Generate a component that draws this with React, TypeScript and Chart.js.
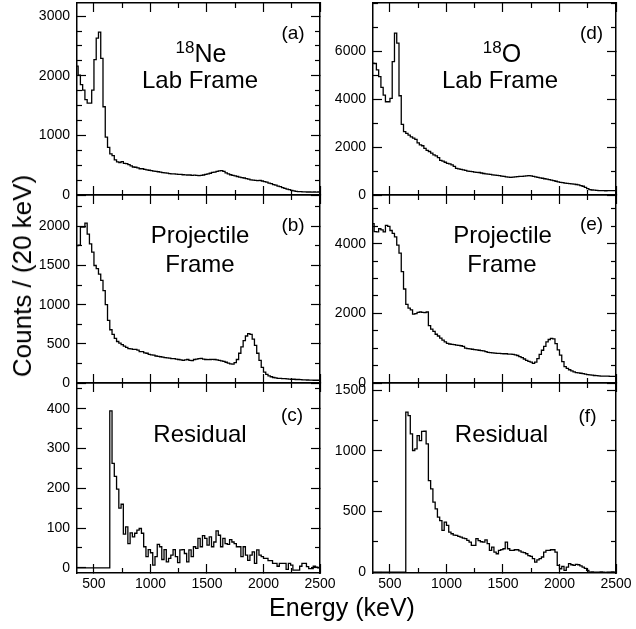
import React, { useEffect, useRef } from "react";
import { Chart, registerables } from "chart.js";

Chart.register(...registerables);

// ---------------- data ----------------
const BIN_START_KEV = 340;
const BIN_WIDTH_KEV = 20;
const X_MIN_KEV = 350;
const X_MAX_KEV = 2500;
const X_MAJOR_TICKS = [500, 1000, 1500, 2000, 2500];
const X_MINOR_TICKS = [750, 1250, 1750, 2250];

// counts per 20 keV bin, bins start at 340 keV
const NE_LAB = [
  2160, 2010, 1850, 1760, 1600, 1540, 1540, 1760, 2270, 2630,
  2730, 2290, 1480, 970, 800, 690, 660, 590, 555, 545,
  560, 530, 525, 510, 490, 470, 465, 455, 440, 440,
  430, 420, 415, 410, 400, 395, 390, 385, 375, 370,
  368, 360, 355, 355, 350, 345, 345, 340, 338, 335,
  335, 330, 332, 328, 325, 330, 335, 345, 355, 365,
  378, 385, 395, 405, 410, 395, 370, 355, 340, 330,
  320, 310, 300, 290, 285, 275, 265, 255, 250, 245,
  240, 245, 235, 225, 215, 200, 190, 175, 165, 150,
  140, 125, 110, 100, 90, 78, 70, 62, 58, 55,
  54, 52, 50, 50, 49, 50, 48, 50,
];
const NE_PROJ = [
  1755, 1760, 1990, 1990, 2040, 1900, 1775, 1670, 1500, 1460,
  1390, 1310, 1180, 1000, 800, 680, 620, 570, 530, 510,
  490, 470, 455, 440, 435, 430, 430, 420, 400, 400,
  385, 380, 365, 360, 355, 345, 340, 335, 330, 325,
  320, 318, 312, 310, 305, 300, 295, 290, 295, 300,
  290, 285, 300, 305, 310, 315, 305, 300, 298, 300,
  302, 300, 295, 290, 282, 275, 265, 255, 245, 240,
  260, 300, 380, 460, 540, 600, 630, 620, 560, 480,
  380, 290, 200, 140, 110, 90, 80, 70, 65, 60,
  58, 55, 55, 52, 50, 48, 48, 45, 45, 42,
  40, 40, 38, 36, 36, 35, 35, 35,
];
const NE_RESID = [
  0, 0, 0, 0, 0, 0, 0, 0, 0, 0,
  0, 0, 0, 0, 0, 395, 263, 230, 198, 150,
  160, 85, 103, 61, 88, 78, 87, 95, 99, 87,
  53, 28, 46, 38, 7, 28, 59, 53, 21, 46,
  15, 24, 32, 46, 28, 13, 45, 46, 36, 15,
  45, 28, 53, 49, 74, 53, 81, 74, 57, 78,
  53, 65, 93, 82, 53, 74, 61, 59, 71, 65,
  61, 53, 53, 28, 53, 32, 19, 32, 40, 11,
  45, 32, 28, 24, 24, 18, 18, 11, 11, 4,
  11, 11, 11, -4, 11, 7, -6, -6, -6, 4,
  11, 11, 3, -2, -2, 4, 2, 0,
];
const O_LAB = [
  5510, 5500, 5230, 4950, 4500, 4180, 3900, 3900, 4040, 5580,
  6770, 6350, 4150, 2950, 2650, 2580, 2500, 2430, 2380, 2330,
  2180, 2100, 2060, 1950, 1870, 1820, 1750, 1680, 1640, 1560,
  1450, 1420, 1370, 1320, 1300, 1260, 1200, 1110, 1090, 1070,
  1050, 1030, 1000, 990, 980, 960, 950, 940, 920, 900,
  880, 870, 860, 840, 830, 820, 810, 790, 780, 760,
  745, 740, 750, 760, 770, 775, 780, 790, 800, 810,
  800, 780, 760, 740, 720, 700, 680, 660, 645, 620,
  600, 575, 545, 530, 515, 500, 490, 475, 465, 455,
  440, 420, 390, 365, 320, 270, 225, 210, 200, 190,
  185, 180, 180, 178, 180, 182, 180, 180,
];
const O_PROJ = [
  4580, 4350, 4340, 4430, 4400, 4340, 4530, 4500, 4380, 4300,
  4200, 3960, 3730, 3200, 2700, 2260, 2150, 2100, 1980, 1990,
  2030, 2040, 2030, 2020, 2040, 1650, 1550, 1480, 1400, 1350,
  1290, 1230, 1180, 1140, 1120, 1110, 1100, 1090, 1080, 1070,
  1050, 1000, 990, 980, 970, 960, 950, 940, 930, 920,
  900, 880, 870, 865, 860, 850, 850, 845, 840, 840,
  830, 830, 820, 810, 790, 760, 730, 690, 650, 620,
  600, 565, 600, 700, 820, 940, 1050, 1180, 1250, 1280,
  1270, 1130, 950, 800, 615, 470, 420, 380, 350, 320,
  300, 290, 280, 270, 255, 240, 235, 225, 215, 210,
  205, 200, 200, 198, 195, 192, 190, 190,
];
const O_RESID = [
  0, 0, 0, 0, 0, 0, 0, 0, 0, 0,
  0, 0, 0, 0, 0, 1320, 1290, 1140, 1003, 1016,
  1126, 1085, 1160, 1162, 1058, 755, 687, 577, 522, 453,
  425, 343, 412, 385, 330, 316, 305, 302, 295, 288,
  280, 275, 262, 247, 220, 220, 275, 260, 250, 247,
  266, 234, 179, 206, 165, 151, 179, 185, 192, 247,
  192, 179, 179, 184, 184, 175, 165, 160, 151, 135,
  129, 110, 82, 100, 110, 124, 165, 179, 179, 184,
  184, 165, 55, 27, 47, 14, 40, 69, 60, 55,
  63, 60, 50, 41, 30, 14, 0, 2, 0, 0,
  0, 2, 0, -3, 0, 0, 2, 0,
];

const A_Y_LABELS = [0, 1000, 2000, 3000];
const B_Y_LABELS = [0, 500, 1000, 1500, 2000];
const C_Y_LABELS = [0, 100, 200, 300, 400];
const D_Y_LABELS = [0, 2000, 4000, 6000];
const E_Y_LABELS = [0, 2000, 4000];
const F_Y_LABELS = [0, 500, 1000, 1500];

// ---------------- layout / style ----------------
const FONT = '"Liberation Sans", Arial, Helvetica, sans-serif';
const COL_LEFT = [77, 373];
const COL_RIGHT = [320, 616];
const ROW_TOP = [3, 195, 383];
const ROW_BOTTOM = [195, 383, 573];
const ML = 70; // canvas room left of the frame (y labels)
const MR = 22;
const MT = 10;
const X_LABEL_H = 24;
const MAJOR_LEN = 9;
const MINOR_LEN = 5;
const FRAME_W = 1.5;
const TICK_W = 1.2;

type PanelSpec = {
  key: string;
  counts: number[];
  yMin: number;
  yMax: number;
  yLabels: number[];
  yMinorStep: number;
  col: number;
  row: number;
};

const PANELS: PanelSpec[] = [
  { key: "a", counts: NE_LAB, yMin: 0, yMax: 3220, yLabels: A_Y_LABELS, yMinorStep: 250, col: 0, row: 0 },
  { key: "b", counts: NE_PROJ, yMin: 0, yMax: 2400, yLabels: B_Y_LABELS, yMinorStep: 250, col: 0, row: 1 },
  { key: "c", counts: NE_RESID, yMin: -13, yMax: 465, yLabels: C_Y_LABELS, yMinorStep: 50, col: 0, row: 2 },
  { key: "d", counts: O_LAB, yMin: 0, yMax: 8030, yLabels: D_Y_LABELS, yMinorStep: 1000, col: 1, row: 0 },
  { key: "e", counts: O_PROJ, yMin: 0, yMax: 5400, yLabels: E_Y_LABELS, yMinorStep: 500, col: 1, row: 1 },
  { key: "f", counts: O_RESID, yMin: -8, yMax: 1560, yLabels: F_Y_LABELS, yMinorStep: 250, col: 1, row: 2 },
];

function stepPoints(counts: number[]) {
  const pts = counts.map((c, i) => ({ x: BIN_START_KEV + i * BIN_WIDTH_KEV, y: c }));
  pts.push({ x: BIN_START_KEV + counts.length * BIN_WIDTH_KEV, y: counts[counts.length - 1] });
  return pts;
}

function ticksEvery(min: number, max: number, step: number) {
  const out: number[] = [];
  for (let v = Math.ceil(min / step) * step; v <= max + 1e-9; v += step) out.push(v);
  return out;
}

function fixSize(size: number) {
  return (s: any) => {
    if (s.isHorizontal()) s.height = size;
    else s.width = size;
    s.paddingLeft = 0;
    s.paddingRight = 0;
    s.paddingTop = 0;
    s.paddingBottom = 0;
  };
}

function tickOnlyAxis(position: string, min: number, max: number, values: number[], len: number, border: boolean) {
  return {
    type: "linear",
    position,
    min,
    max,
    weight: 0,
    afterBuildTicks: (s: any) => {
      s.ticks = values.map((v) => ({ value: v }));
    },
    afterFit: fixSize(0),
    ticks: { display: false },
    grid: {
      display: true,
      drawOnChartArea: false,
      drawTicks: true,
      tickLength: -len,
      tickColor: "#000",
      tickWidth: TICK_W,
    },
    border: { display: border, color: "#000", width: FRAME_W },
  };
}

function makeConfig(spec: PanelSpec, bottomRow: boolean, mb: number): any {
  const yMinor = ticksEvery(spec.yMin, spec.yMax, spec.yMinorStep).filter((v) => !spec.yLabels.includes(v));
  const tickFont = { family: FONT, size: 14 };
  return {
    type: "line",
    data: {
      datasets: [
        {
          data: stepPoints(spec.counts),
          xAxisID: "x",
          yAxisID: "y",
          stepped: true,
          borderColor: "#000",
          borderWidth: 1.3,
          pointRadius: 0,
          fill: false,
          tension: 0,
        },
      ],
    },
    options: {
      responsive: false,
      animation: false,
      devicePixelRatio: 1,
      events: [],
      layout: {
        autoPadding: false,
        padding: { left: 0, top: MT, right: MR, bottom: bottomRow ? mb - X_LABEL_H : mb },
      },
      plugins: { legend: { display: false }, tooltip: { enabled: false } },
      scales: {
        x: {
          type: "linear",
          position: "bottom",
          min: X_MIN_KEV,
          max: X_MAX_KEV,
          weight: 10,
          afterBuildTicks: (s: any) => {
            s.ticks = X_MAJOR_TICKS.map((v) => ({ value: v }));
          },
          afterFit: fixSize(bottomRow ? X_LABEL_H : 0),
          ticks: {
            display: bottomRow,
            autoSkip: false,
            maxRotation: 0,
            padding: 12,
            color: "#000",
            font: tickFont,
            callback: (v: any) => String(v),
          },
          grid: {
            display: true,
            drawOnChartArea: false,
            drawTicks: true,
            tickLength: -MAJOR_LEN,
            tickColor: "#000",
            tickWidth: TICK_W,
          },
          border: { display: true, color: "#000", width: FRAME_W },
        },
        xm: tickOnlyAxis("bottom", X_MIN_KEV, X_MAX_KEV, X_MINOR_TICKS, MINOR_LEN, false),
        xt: tickOnlyAxis("top", X_MIN_KEV, X_MAX_KEV, X_MAJOR_TICKS, MAJOR_LEN, true),
        xtm: tickOnlyAxis("top", X_MIN_KEV, X_MAX_KEV, X_MINOR_TICKS, MINOR_LEN, false),
        y: {
          type: "linear",
          position: "left",
          min: spec.yMin,
          max: spec.yMax,
          weight: 10,
          afterBuildTicks: (s: any) => {
            s.ticks = spec.yLabels.map((v) => ({ value: v }));
          },
          afterFit: fixSize(ML),
          ticks: {
            display: true,
            autoSkip: false,
            padding: 16,
            color: "#000",
            font: tickFont,
            callback: (v: any) => String(v),
          },
          grid: {
            display: true,
            drawOnChartArea: false,
            drawTicks: true,
            tickLength: -MAJOR_LEN,
            tickColor: "#000",
            tickWidth: TICK_W,
          },
          border: { display: true, color: "#000", width: FRAME_W },
        },
        ym: tickOnlyAxis("left", spec.yMin, spec.yMax, yMinor, MINOR_LEN, false),
        yr: tickOnlyAxis("right", spec.yMin, spec.yMax, spec.yLabels, MAJOR_LEN, true),
        yrm: tickOnlyAxis("right", spec.yMin, spec.yMax, yMinor, MINOR_LEN, false),
      },
    },
  };
}

function HistPanel({ spec }: { spec: PanelSpec }) {
  const ref = useRef<HTMLCanvasElement | null>(null);
  const left = COL_LEFT[spec.col];
  const right = COL_RIGHT[spec.col];
  const top = ROW_TOP[spec.row];
  const bottom = ROW_BOTTOM[spec.row];
  const bottomRow = spec.row === 2;
  const mb = bottomRow ? X_LABEL_H + 12 : 10;
  const w = right - left + ML + MR;
  const h = bottom - top + MT + mb;
  useEffect(() => {
    if (!ref.current) return;
    const chart = new Chart(ref.current, makeConfig(spec, bottomRow, mb));
    return () => chart.destroy();
  }, [spec]);
  return (
    <canvas
      ref={ref}
      width={w}
      height={h}
      style={{ position: "absolute", left: left - ML, top: top - MT, width: w, height: h }}
    />
  );
}

function Label({ cx, cy, size, children, rotate }: { cx: number; cy: number; size: number; children: any; rotate?: boolean }) {
  return (
    <div
      style={{
        position: "absolute",
        left: cx,
        top: cy,
        transform: rotate ? "translate(-50%, -50%) rotate(-90deg)" : "translate(-50%, -50%)",
        fontFamily: FONT,
        fontSize: size,
        lineHeight: 1,
        whiteSpace: "nowrap",
        color: "#000",
      }}
    >
      {children}
    </div>
  );
}

const Sup = ({ children }: { children: any }) => (
  <span style={{ fontSize: 17, position: "relative", top: -9 }}>{children}</span>
);

export default function App() {
  useEffect(() => {
    document.body.style.margin = "0";
  }, []);
  return (
    <div style={{ position: "absolute", left: 0, top: 0, width: 636, height: 629, background: "#fff", overflow: "hidden" }}>
      {PANELS.map((p) => (
        <HistPanel key={p.key} spec={p} />
      ))}
      {/* left column texts */}
      <Label cx={293} cy={32} size={19}>(a)</Label>
      <Label cx={201} cy={52.5} size={25}>
        <Sup>18</Sup>Ne
      </Label>
      <Label cx={200} cy={80} size={24}>Lab Frame</Label>
      <Label cx={293} cy={223.5} size={19}>(b)</Label>
      <Label cx={200} cy={235} size={24}>Projectile</Label>
      <Label cx={200} cy={263.5} size={24}>Frame</Label>
      <Label cx={292} cy={414} size={19}>(c)</Label>
      <Label cx={200} cy={434} size={24}>Residual</Label>
      {/* right column texts */}
      <Label cx={591.5} cy={32} size={19}>(d)</Label>
      <Label cx={502} cy={52.5} size={25}>
        <Sup>18</Sup>O
      </Label>
      <Label cx={500} cy={80} size={24}>Lab Frame</Label>
      <Label cx={591.5} cy={222.5} size={19}>(e)</Label>
      <Label cx={502.5} cy={235} size={24}>Projectile</Label>
      <Label cx={502} cy={263.5} size={24}>Frame</Label>
      <Label cx={587.5} cy={415} size={19}>(f)</Label>
      <Label cx={501.5} cy={434} size={24}>Residual</Label>
      {/* axis titles */}
      <Label cx={22} cy={275.5} size={26} rotate>
        Counts / (20 keV)
      </Label>
      <Label cx={342} cy={607} size={25}>Energy (keV)</Label>
    </div>
  );
}
